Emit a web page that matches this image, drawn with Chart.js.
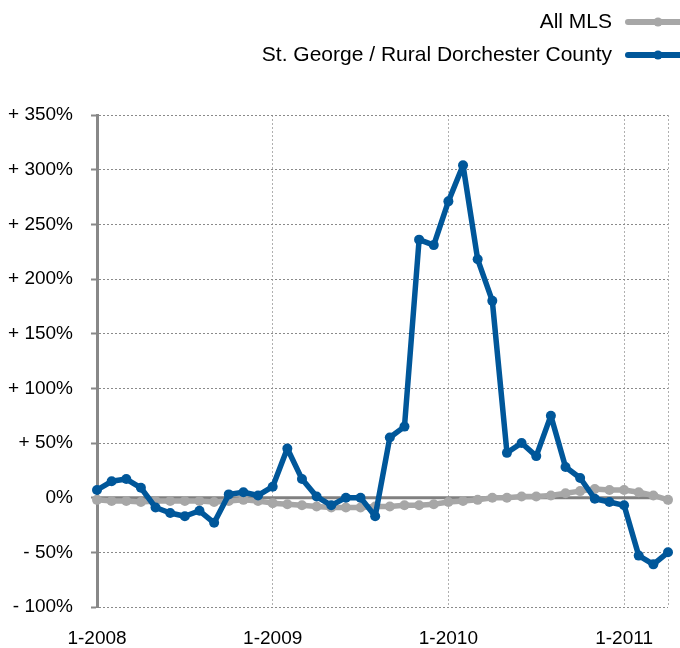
<!DOCTYPE html>
<html>
<head>
<meta charset="utf-8">
<script src="https://cdn.jsdelivr.net/npm/chart.js@4/dist/chart.umd.min.js"></script>
<style>
  html, body { margin: 0; padding: 0; background: #fff; }
  #wrap { width: 680px; height: 648px; }
</style>
</head>
<body>
<div id="wrap"><canvas id="priceChart" width="680" height="648"></canvas></div>
<script>
// monthly, 1-2008 .. 4-2011
const years = [2008, 2009, 2010, 2011];
const months = [];
years.forEach(y => {
    for (let m = 1; m <= 12; m++) {
        if (y === 2011 && m > 4) break;
        months.push(m + '-' + y);
    }
});

const seriesNames = ['All MLS', 'St. George / Rural Dorchester County'];

const allMls = [
    -2, -3, -3, -4, -3, -3, -3, -3, -4, -3, -2, -3,
    -5, -6, -7, -8, -9, -9, -9, -8, -8, -7, -7, -6,
    -4, -3, -2, 0, 0, 1, 1, 2, 4, 6, 8, 7,
    7, 5, 2, -2
];

const stGeorge = [
    7, 15, 17, 9, -9, -14, -17, -12, -23, 3, 5, 2,
    10, 45, 17, 1, -7, 0, 0, -17, 55, 65, 236, 231,
    271, 304, 218, 180, 41, 50, 38, 75, 28, 18, -1, -4,
    -7, -53, -61, -50
];

const yTicks = [-100, -50, 0, 50, 100, 150, 200, 250, 300, 350];

const gray = '#a7a7a7';
const blue = '#00579a';
const font = 'Liberation Sans, Arial, Helvetica, sans-serif';

const zeroLine = {
    id: 'zeroLine',
    beforeDatasetsDraw(chart) {
        const y = chart.scales.y.getPixelForValue(0);
        const c = chart.ctx;
        c.save();
        c.strokeStyle = '#808080';
        c.lineWidth = 3;
        c.beginPath();
        c.moveTo(chart.chartArea.left, y);
        c.lineTo(chart.chartArea.right, y);
        c.stroke();
        c.restore();
    }
};

const sideLegend = {
    id: 'sideLegend',
    afterDraw(chart) {
        const c = chart.ctx;
        const rows = [22, 55];
        c.save();
        c.font = '21px ' + font;
        c.textAlign = 'right';
        c.textBaseline = 'middle';
        chart.data.datasets.forEach((ds, i) => {
            const y = rows[i];
            c.fillStyle = '#000';
            c.fillText(ds.label, 612, y);
            c.strokeStyle = ds.borderColor;
            c.lineWidth = 6;
            c.lineCap = 'round';
            c.beginPath();
            c.moveTo(628, y);
            c.lineTo(682, y);
            c.stroke();
            c.fillStyle = ds.borderColor;
            c.beginPath();
            c.arc(658, y, 4.5, 0, Math.PI * 2);
            c.fill();
        });
        c.restore();
    }
};

const lineStyle = {
    borderWidth: 5.5,
    borderJoinStyle: 'round',
    borderCapStyle: 'round',
    pointRadius: 5,
    pointBorderWidth: 0,
    tension: 0
};

const ctx = document.getElementById('priceChart').getContext('2d');
const chart = new Chart(ctx, {
    type: 'line',
    data: {
        labels: months,
        datasets: [{
            label: seriesNames[0],
            data: allMls,
            borderColor: gray,
            backgroundColor: gray,
            ...lineStyle,
            order: 1
        }, {
            label: seriesNames[1],
            data: stGeorge,
            borderColor: blue,
            backgroundColor: blue,
            ...lineStyle,
            order: 0
        }]
    },
    options: {
        responsive: false,
        animation: false,
        layout: {
            autoPadding: false,
            padding: { top: 115, right: 12, bottom: 0, left: 0 }
        },
        plugins: {
            legend: { display: false },
            tooltip: { enabled: false }
        },
        scales: {
            x: {
                offset: false,
                border: { display: false, dash: [2, 2] },
                grid: {
                    color: c => (c.index % 12 === 0 || c.index === months.length - 1) ? '#b0b0b0' : 'transparent',
                    lineWidth: 1,
                    drawTicks: false
                },
                ticks: {
                    autoSkip: false,
                    maxRotation: 0,
                    padding: 20,
                    color: '#000',
                    font: { family: font, size: 19 },
                    callback: (v, i) => i % 12 === 0 ? months[i] : ''
                },
                afterFit: s => {
                    s.height = 41;
                    s.paddingLeft = 0;
                    s.paddingRight = 0;
                }
            },
            y: {
                min: -100,
                max: 350,
                afterBuildTicks: s => { s.ticks = yTicks.map(v => ({ value: v })); },
                border: { display: true, color: '#888', width: 3, dash: [2, 2] },
                grid: {
                    color: '#8a8a8a',
                    lineWidth: 1,
                    tickLength: 6,
                    tickColor: '#888',
                    tickWidth: 2,
                    tickBorderDash: []
                },
                ticks: {
                    padding: 18,
                    color: '#000',
                    font: { family: font, size: 19 },
                    callback: v => v > 0 ? '+ ' + v + '%' : (v < 0 ? '- ' + Math.abs(v) + '%' : '0%')
                },
                afterFit: s => { s.width = 97; }
            }
        }
    },
    plugins: [zeroLine, sideLegend]
});
</script>
</body>
</html>
